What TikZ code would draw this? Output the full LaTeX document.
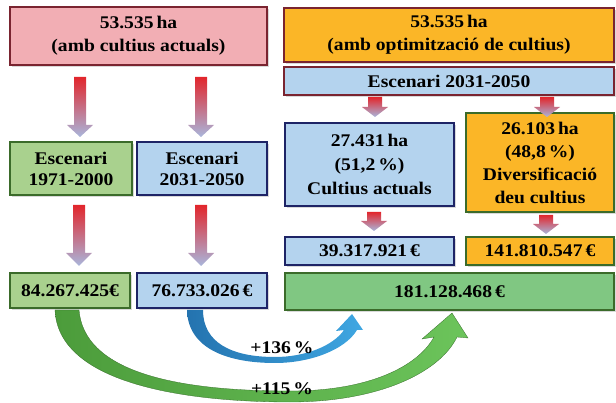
\documentclass[tikz,border=0pt]{standalone}
\usepackage{fontspec}
\setmainfont{Liberation Serif}[FakeStretch=1.1]
\usetikzlibrary{shadows}
\definecolor{pinkf}{HTML}{F2AEB4}
\definecolor{redb}{HTML}{7A2430}
\definecolor{orangef}{HTML}{FBB627}
\definecolor{bluef}{HTML}{B4D3EE}
\definecolor{navyb}{HTML}{1E2466}
\definecolor{lgreenf}{HTML}{A9D18E}
\definecolor{greenb}{HTML}{3B6B2A}
\definecolor{mgreenf}{HTML}{80C782}
\definecolor{arrred}{HTML}{E2262C}
\definecolor{arrlav}{HTML}{A9B6DC}
\definecolor{bluea}{HTML}{2473AF}
\definecolor{blueb}{HTML}{3FA7E2}
\definecolor{greena}{HTML}{4C9C3B}
\definecolor{greenc}{HTML}{6CC45B}
\newcommand\blkarrow[6]{%
  \shade[top color=arrred, bottom color=arrlav]
    ({#1-#5},#2) -- ({#1+#5},#2) -- ({#1+#5},#3) -- ({#1+#6},#3) -- (#1,#4)
    -- ({#1-#6},#3) -- ({#1-#5},#3) -- cycle;}
\begin{document}
\begin{tikzpicture}[x=1pt,y=-1pt,
  box/.style={draw, line width=1.4pt, align=center, inner sep=0pt,
    font=\bfseries\fontsize{17.8}{23}\selectfont,
    drop shadow={opacity=0.3, shadow xshift=1.5pt, shadow yshift=-1.8pt}},
  lbl/.style={font=\bfseries\fontsize{17.8}{21}\selectfont, inner sep=1pt}]
\useasboundingbox (0,0) rectangle (616,403);

% boxes
\node[box, fill=pinkf, draw=redb, minimum width=257pt, minimum height=58pt] (top1) at (138.5,36) {53.535\,ha\\(amb cultius actuals)};
\node[box, fill=orangef, draw=redb, minimum width=330pt, minimum height=54pt] (top2) at (449,35) {53.535\,ha\\(amb optimització de cultius)};
\node[box, fill=bluef, draw=redb, minimum width=330pt, minimum height=28pt] (bar) at (449,81) {Escenari 2031-2050};
\node[box, fill=lgreenf, draw=greenb, minimum width=122pt, minimum height=53pt, font=\bfseries\fontsize{17.8}{21}\selectfont] (esc1) at (71,168.5) {Escenari\\1971-2000};
\node[box, fill=bluef, draw=navyb, minimum width=130pt, minimum height=53pt, font=\bfseries\fontsize{17.8}{21}\selectfont] (esc2) at (202,168.5) {Escenari\\2031-2050};
\node[box, fill=bluef, draw=navyb, minimum width=169pt, minimum height=83pt, font=\bfseries\fontsize{17.8}{24}\selectfont] (cult) at (369.5,164.5) {27.431\,ha\\(51,2\,\%)\\Cultius actuals};
\node[box, fill=orangef, draw=greenb, minimum width=148pt, minimum height=99pt, font=\bfseries\fontsize{17.8}{23}\selectfont] (div) at (540,162.5) {26.103\,ha\\(48,8\,\%)\\Diversificació\\deu cultius};
\node[box, fill=lgreenf, draw=greenb, minimum width=120pt, minimum height=35pt] (v1) at (70,290.5) {84.267.425€};
\node[box, fill=bluef, draw=navyb, minimum width=130pt, minimum height=35pt] (v2) at (202,290.5) {76.733.026\,€};
\node[box, fill=bluef, draw=navyb, minimum width=169pt, minimum height=28pt] (v3) at (369.5,251) {39.317.921\,€};
\node[box, fill=orangef, draw=greenb, minimum width=148pt, minimum height=28pt] (v4) at (540,251) {141.810.547\,€};
\node[box, fill=mgreenf, draw=greenb, minimum width=329pt, minimum height=37pt] (v5) at (449.5,291.5) {181.128.468\,€};

% gradient block arrows
\blkarrow{80}{77}{125}{137}{6}{13}
\blkarrow{201}{77}{125}{137}{6}{13}
\blkarrow{79}{205}{253}{266}{6}{13}
\blkarrow{201}{205}{253}{266}{6}{13}
\blkarrow{375}{97}{107}{117}{7}{13}
\blkarrow{547}{97}{107}{117}{7}{13}
\blkarrow{374}{212}{221}{231}{7}{13}
\blkarrow{546}{215}{224}{234}{7}{13}

% curved arrows
\shade[left color=greena, right color=greenc, draw=greena!70!black, line width=0.3pt]
  (55,310) .. controls (58,382) and (180,402) .. (290,402)
  .. controls (380,402) and (440,372) .. (457,337)
  -- (468,338) -- (452,313) -- (422,339) -- (434,337)
  .. controls (418,366) and (370,391) .. (290,391)
  .. controls (170,391) and (84,370) .. (79,310) -- cycle;
\shade[left color=bluea, right color=blueb]
  (187,310) .. controls (188,350) and (230,363) .. (275,363)
  .. controls (310,363) and (345,350) .. (357,330)
  -- (363,330) -- (352,314) -- (336,331) -- (344,330)
  .. controls (333,346) and (305,357) .. (275,357)
  .. controls (232,357) and (203,343) .. (203,310) -- cycle;

\node[lbl] (p136) at (282,348) {+136\,\%};
\node[lbl] (p115) at (282,389) {+115\,\%};
\end{tikzpicture}
\end{document}
